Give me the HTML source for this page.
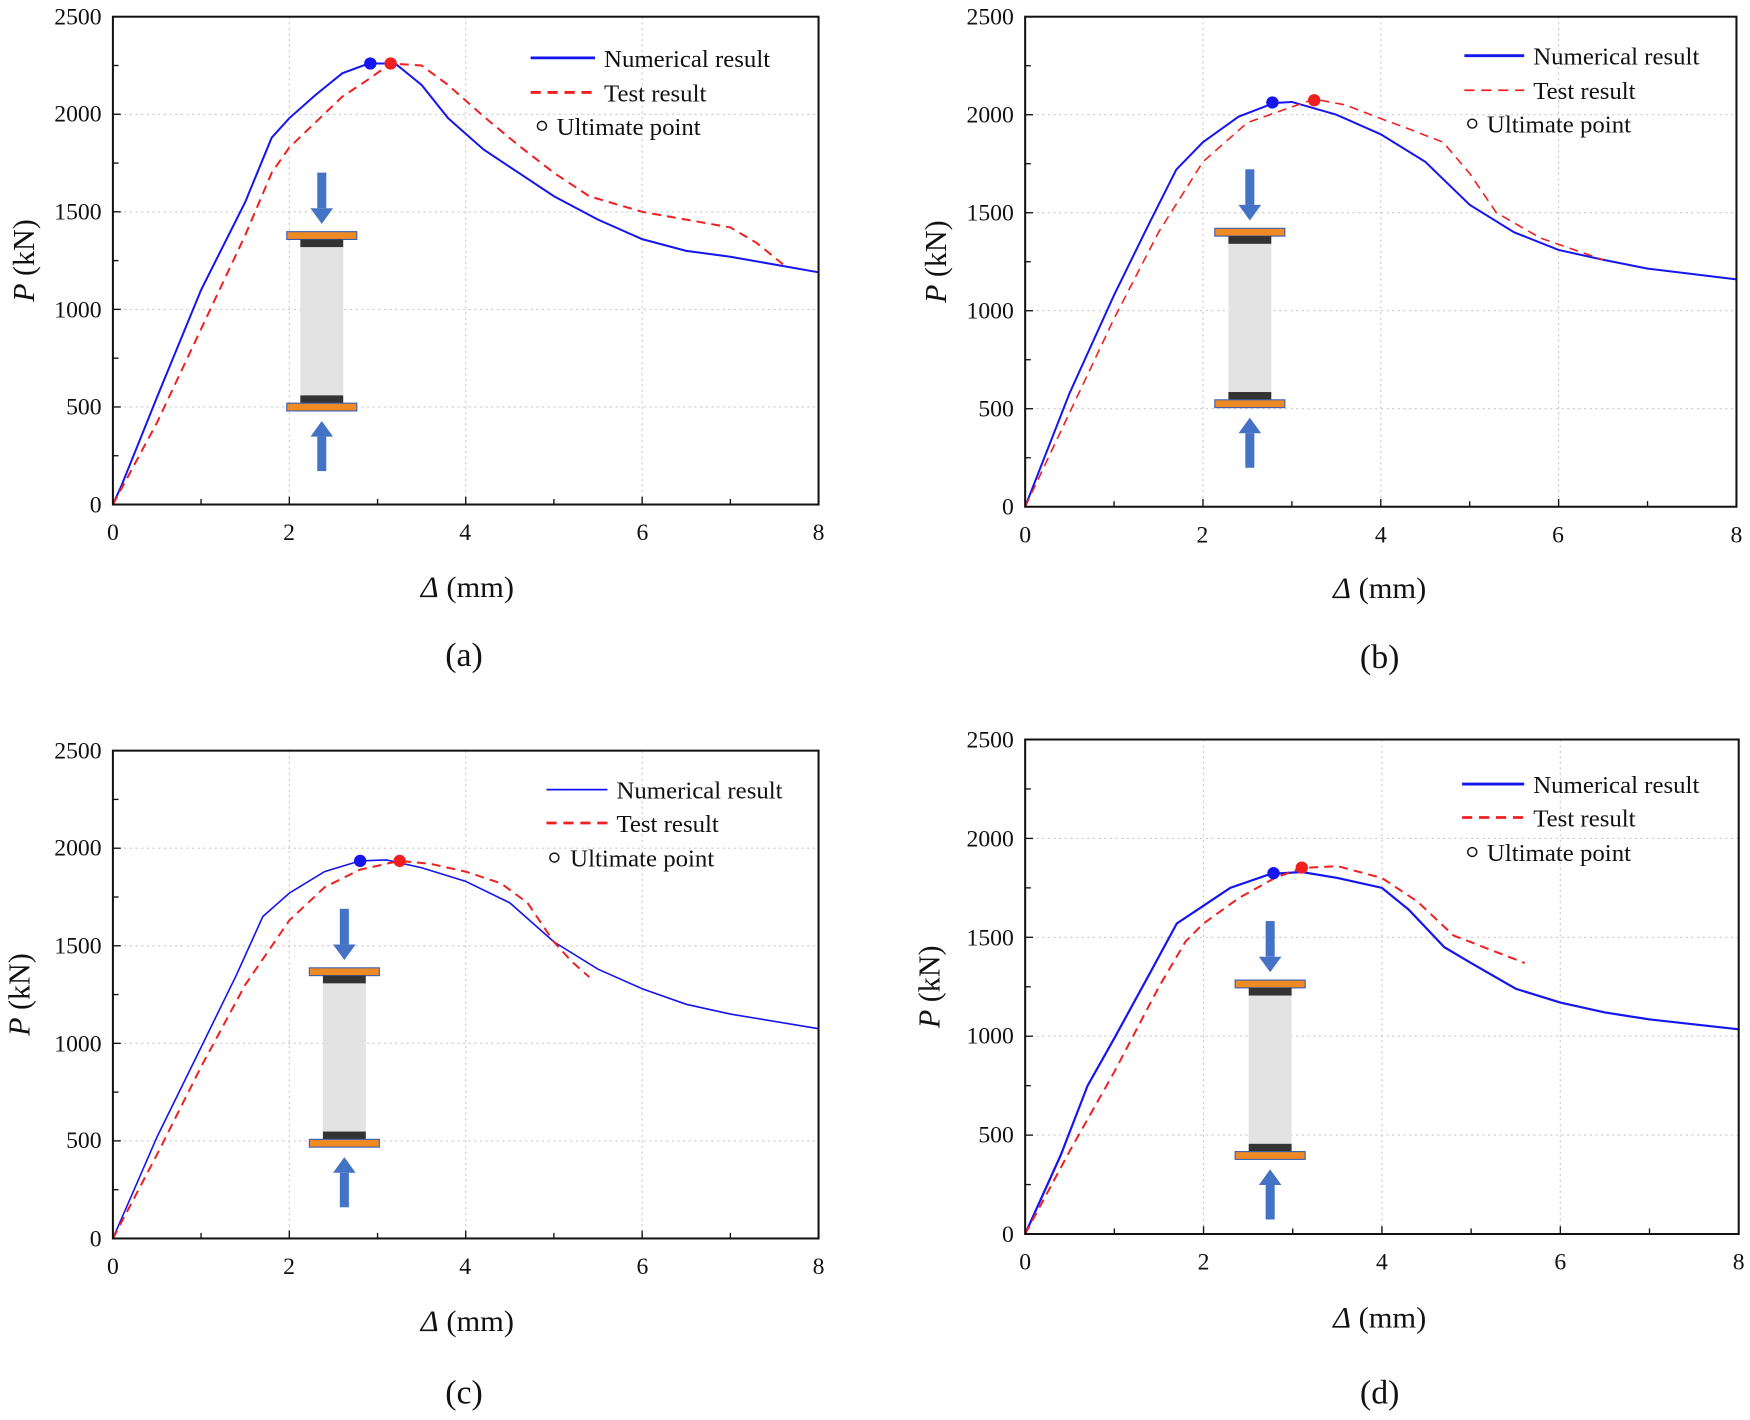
<!DOCTYPE html>
<html><head><meta charset="utf-8"><style>
html,body{margin:0;padding:0;background:#fff;}
svg{display:block;}
text{font-family:"Liberation Serif",serif;fill:#111;}
</style></head><body>
<svg width="1750" height="1420" viewBox="0 0 1550 1275" preserveAspectRatio="none" xmlns="http://www.w3.org/2000/svg">
<defs>
<g id="col">
<rect x="-4" y="0" width="8" height="32" fill="#4472c4"/>
<polygon points="-10,32 10,32 0,46" fill="#4472c4"/>
<rect x="-31" y="53" width="62" height="7" fill="#f08a24" stroke="#3b5fb0" stroke-width="1"/>
<rect x="-19" y="60" width="38" height="7" fill="#333"/>
<rect x="-19" y="67" width="38" height="133" fill="#e3e3e3"/>
<rect x="-19" y="200" width="38" height="7" fill="#333"/>
<rect x="-31" y="207" width="62" height="7" fill="#f08a24" stroke="#3b5fb0" stroke-width="1"/>
<polygon points="-10,237 10,237 0,223" fill="#4472c4"/>
<rect x="-4" y="237" width="8" height="31" fill="#4472c4"/>
</g>
</defs>

<!-- ===== (a) ===== -->
<g>
<g stroke="#ccc" stroke-width="1" stroke-dasharray="2,3">
<line x1="256.25" y1="15" x2="256.25" y2="453"/><line x1="412.5" y1="15" x2="412.5" y2="453"/><line x1="568.75" y1="15" x2="568.75" y2="453"/>
<line x1="100" y1="365.4" x2="725" y2="365.4"/><line x1="100" y1="277.8" x2="725" y2="277.8"/><line x1="100" y1="190.2" x2="725" y2="190.2"/><line x1="100" y1="102.6" x2="725" y2="102.6"/>
</g>
<use href="#col" x="285" y="155"/>
<g transform="translate(100,453) scale(78.125,-0.1752)" fill="none">
<polyline vector-effect="non-scaling-stroke" stroke="#1515f0" stroke-width="2" points="0,0 0.1,100 0.5,550 1,1100 1.5,1550 1.8,1880 2,1980 2.3,2100 2.6,2210 2.9,2260 3.2,2260 3.5,2150 3.8,1980 4.2,1820 4.6,1700 5,1580 5.5,1460 6,1360 6.5,1300 7,1270 8,1190"/>
<polyline vector-effect="non-scaling-stroke" stroke="#f02020" stroke-width="2" stroke-dasharray="9,6" points="0,0 0.5,420 1,900 1.5,1380 1.8,1700 2,1830 2.3,1960 2.6,2090 2.9,2180 3.15,2260 3.5,2250 3.8,2150 4.2,1990 4.6,1840 5,1700 5.4,1580 6,1500 6.5,1460 7,1420 7.3,1340 7.6,1230"/>
</g>
<circle cx="328" cy="57" r="5.5" fill="#1515f0"/><circle cx="346" cy="57" r="5.5" fill="#f02020"/>
<rect x="100" y="15" width="625" height="438" fill="none" stroke="#111" stroke-width="1.8"/>
<g stroke="#111" stroke-width="1.2">
<line x1="178.1" y1="453" x2="178.1" y2="448"/><line x1="256.25" y1="453" x2="256.25" y2="446"/><line x1="334.4" y1="453" x2="334.4" y2="448"/><line x1="412.5" y1="453" x2="412.5" y2="446"/><line x1="490.6" y1="453" x2="490.6" y2="448"/><line x1="568.75" y1="453" x2="568.75" y2="446"/><line x1="646.9" y1="453" x2="646.9" y2="448"/>
<line x1="100" y1="409.2" x2="105" y2="409.2"/><line x1="100" y1="365.4" x2="107" y2="365.4"/><line x1="100" y1="321.6" x2="105" y2="321.6"/><line x1="100" y1="277.8" x2="107" y2="277.8"/><line x1="100" y1="234" x2="105" y2="234"/><line x1="100" y1="190.2" x2="107" y2="190.2"/><line x1="100" y1="146.4" x2="105" y2="146.4"/><line x1="100" y1="102.6" x2="107" y2="102.6"/><line x1="100" y1="58.8" x2="105" y2="58.8"/>
</g>
<g font-size="21" text-anchor="end">
<text x="90" y="460">0</text><text x="90" y="372">500</text><text x="90" y="285">1000</text><text x="90" y="197">1500</text><text x="90" y="109">2000</text><text x="90" y="22">2500</text>
</g>
<g font-size="21" text-anchor="middle">
<text x="100" y="485">0</text><text x="256" y="485">2</text><text x="412" y="485">4</text><text x="569" y="485">6</text><text x="725" y="485">8</text>
</g>
<text x="414" y="536" font-size="27" text-anchor="middle"><tspan font-style="italic">Δ</tspan> (mm)</text>
<text transform="translate(30,234) rotate(-90)" font-size="27" text-anchor="middle"><tspan font-style="italic">P</tspan> (kN)</text>
<text x="411" y="598" font-size="30" text-anchor="middle">(a)</text>
<line x1="470" y1="52" x2="527" y2="52" stroke="#1515f0" stroke-width="2.5"/>
<line x1="470" y1="83" x2="527" y2="83" stroke="#f02020" stroke-width="2.5" stroke-dasharray="9,6"/>
<circle cx="480" cy="113" r="4" fill="none" stroke="#111" stroke-width="1.3"/>
<g font-size="22"><text x="535" y="60">Numerical result</text><text x="535" y="91">Test result</text><text x="493" y="121">Ultimate point</text></g>
</g>

<!-- ===== (b) ===== -->
<g>
<g stroke="#ccc" stroke-width="1" stroke-dasharray="2,3">
<line x1="1065.5" y1="15" x2="1065.5" y2="455"/><line x1="1223" y1="15" x2="1223" y2="455"/><line x1="1380.5" y1="15" x2="1380.5" y2="455"/>
<line x1="908" y1="367" x2="1538" y2="367"/><line x1="908" y1="279" x2="1538" y2="279"/><line x1="908" y1="191" x2="1538" y2="191"/><line x1="908" y1="103" x2="1538" y2="103"/>
</g>
<use href="#col" x="1107" y="152"/>
<g transform="translate(908,455) scale(78.75,-0.176)" fill="none">
<polyline vector-effect="non-scaling-stroke" stroke="#1515f0" stroke-width="2" points="0,0 0.5,580 1,1080 1.4,1450 1.7,1720 2,1860 2.4,1990 2.8,2060 3,2065 3.5,2000 4,1900 4.5,1760 5,1540 5.5,1400 6,1310 6.5,1260 7,1215 8,1160"/>
<polyline vector-effect="non-scaling-stroke" stroke="#f02020" stroke-width="1.6" stroke-dasharray="9,6" points="0,0 0.5,480 1,960 1.5,1400 2,1760 2.5,1960 3,2040 3.25,2080 3.6,2050 4,1980 4.3,1930 4.7,1860 5,1700 5.3,1500 5.8,1370 6.5,1260"/>
</g>
<circle cx="1127" cy="92" r="5.5" fill="#1515f0"/><circle cx="1164" cy="90" r="5.5" fill="#f02020"/>
<rect x="908" y="15" width="630" height="440" fill="none" stroke="#111" stroke-width="1.8"/>
<g stroke="#111" stroke-width="1.2">
<line x1="986.75" y1="455" x2="986.75" y2="450"/><line x1="1065.5" y1="455" x2="1065.5" y2="448"/><line x1="1144.25" y1="455" x2="1144.25" y2="450"/><line x1="1223" y1="455" x2="1223" y2="448"/><line x1="1301.75" y1="455" x2="1301.75" y2="450"/><line x1="1380.5" y1="455" x2="1380.5" y2="448"/><line x1="1459.25" y1="455" x2="1459.25" y2="450"/>
<line x1="908" y1="411" x2="913" y2="411"/><line x1="908" y1="367" x2="915" y2="367"/><line x1="908" y1="323" x2="913" y2="323"/><line x1="908" y1="279" x2="915" y2="279"/><line x1="908" y1="235" x2="913" y2="235"/><line x1="908" y1="191" x2="915" y2="191"/><line x1="908" y1="147" x2="913" y2="147"/><line x1="908" y1="103" x2="915" y2="103"/><line x1="908" y1="59" x2="913" y2="59"/>
</g>
<g font-size="21" text-anchor="end">
<text x="898" y="462">0</text><text x="898" y="374">500</text><text x="898" y="286">1000</text><text x="898" y="198">1500</text><text x="898" y="110">2000</text><text x="898" y="22">2500</text>
</g>
<g font-size="21" text-anchor="middle">
<text x="908" y="487">0</text><text x="1065" y="487">2</text><text x="1223" y="487">4</text><text x="1380" y="487">6</text><text x="1538" y="487">8</text>
</g>
<text x="1222" y="537" font-size="27" text-anchor="middle"><tspan font-style="italic">Δ</tspan> (mm)</text>
<text transform="translate(838,235) rotate(-90)" font-size="27" text-anchor="middle"><tspan font-style="italic">P</tspan> (kN)</text>
<text x="1222" y="600" font-size="30" text-anchor="middle">(b)</text>
<line x1="1297" y1="50" x2="1350" y2="50" stroke="#1515f0" stroke-width="2.5"/>
<line x1="1297" y1="81" x2="1350" y2="81" stroke="#f02020" stroke-width="1.6" stroke-dasharray="9,6"/>
<circle cx="1304" cy="111" r="4" fill="none" stroke="#111" stroke-width="1.3"/>
<g font-size="22"><text x="1358" y="58">Numerical result</text><text x="1358" y="89">Test result</text><text x="1317" y="119">Ultimate point</text></g>
</g>

<!-- ===== (c) ===== -->
<g>
<g stroke="#ccc" stroke-width="1" stroke-dasharray="2,3">
<line x1="256.25" y1="674" x2="256.25" y2="1112"/><line x1="412.5" y1="674" x2="412.5" y2="1112"/><line x1="568.75" y1="674" x2="568.75" y2="1112"/>
<line x1="100" y1="1024.4" x2="725" y2="1024.4"/><line x1="100" y1="936.8" x2="725" y2="936.8"/><line x1="100" y1="849.2" x2="725" y2="849.2"/><line x1="100" y1="761.6" x2="725" y2="761.6"/>
</g>
<use href="#col" x="305" y="816"/>
<g transform="translate(100,1112) scale(78.125,-0.1752)" fill="none">
<polyline vector-effect="non-scaling-stroke" stroke="#1515f0" stroke-width="1.6" points="0,0 0.5,520 1,980 1.4,1350 1.7,1650 2,1770 2.4,1880 2.8,1935 3.1,1940 3.5,1900 4,1830 4.5,1720 5,1520 5.5,1380 6,1280 6.5,1200 7,1150 8,1075"/>
<polyline vector-effect="non-scaling-stroke" stroke="#f02020" stroke-width="2" stroke-dasharray="9,6" points="0,0 0.5,430 1,880 1.5,1300 2,1630 2.4,1800 2.8,1890 3.25,1935 3.6,1920 4,1880 4.4,1820 4.7,1720 5,1520 5.2,1420 5.4,1340"/>
</g>
<circle cx="319" cy="773" r="5.5" fill="#1515f0"/><circle cx="354" cy="773" r="5.5" fill="#f02020"/>
<rect x="100" y="674" width="625" height="438" fill="none" stroke="#111" stroke-width="1.8"/>
<g stroke="#111" stroke-width="1.2">
<line x1="178.1" y1="1112" x2="178.1" y2="1107"/><line x1="256.25" y1="1112" x2="256.25" y2="1105"/><line x1="334.4" y1="1112" x2="334.4" y2="1107"/><line x1="412.5" y1="1112" x2="412.5" y2="1105"/><line x1="490.6" y1="1112" x2="490.6" y2="1107"/><line x1="568.75" y1="1112" x2="568.75" y2="1105"/><line x1="646.9" y1="1112" x2="646.9" y2="1107"/>
<line x1="100" y1="1068.2" x2="105" y2="1068.2"/><line x1="100" y1="1024.4" x2="107" y2="1024.4"/><line x1="100" y1="980.6" x2="105" y2="980.6"/><line x1="100" y1="936.8" x2="107" y2="936.8"/><line x1="100" y1="893" x2="105" y2="893"/><line x1="100" y1="849.2" x2="107" y2="849.2"/><line x1="100" y1="805.4" x2="105" y2="805.4"/><line x1="100" y1="761.6" x2="107" y2="761.6"/><line x1="100" y1="717.8" x2="105" y2="717.8"/>
</g>
<g font-size="21" text-anchor="end">
<text x="90" y="1119">0</text><text x="90" y="1031">500</text><text x="90" y="944">1000</text><text x="90" y="856">1500</text><text x="90" y="768">2000</text><text x="90" y="681">2500</text>
</g>
<g font-size="21" text-anchor="middle">
<text x="100" y="1144">0</text><text x="256" y="1144">2</text><text x="412" y="1144">4</text><text x="569" y="1144">6</text><text x="725" y="1144">8</text>
</g>
<text x="414" y="1195" font-size="27" text-anchor="middle"><tspan font-style="italic">Δ</tspan> (mm)</text>
<text transform="translate(26,893) rotate(-90)" font-size="27" text-anchor="middle"><tspan font-style="italic">P</tspan> (kN)</text>
<text x="411" y="1260" font-size="30" text-anchor="middle">(c)</text>
<line x1="484" y1="709" x2="538" y2="709" stroke="#1515f0" stroke-width="1.6"/>
<line x1="484" y1="739" x2="538" y2="739" stroke="#f02020" stroke-width="2.5" stroke-dasharray="9,6"/>
<circle cx="491" cy="770" r="4" fill="none" stroke="#111" stroke-width="1.3"/>
<g font-size="22"><text x="546" y="717">Numerical result</text><text x="546" y="747">Test result</text><text x="505" y="778">Ultimate point</text></g>
</g>

<!-- ===== (d) ===== -->
<g>
<g stroke="#ccc" stroke-width="1" stroke-dasharray="2,3">
<line x1="1066" y1="664" x2="1066" y2="1108"/><line x1="1224" y1="664" x2="1224" y2="1108"/><line x1="1382" y1="664" x2="1382" y2="1108"/>
<line x1="908" y1="1019.2" x2="1540" y2="1019.2"/><line x1="908" y1="930.4" x2="1540" y2="930.4"/><line x1="908" y1="841.6" x2="1540" y2="841.6"/><line x1="908" y1="752.8" x2="1540" y2="752.8"/>
</g>
<use href="#col" x="1125" y="827"/>
<g transform="translate(908,1108) scale(79,-0.1776)" fill="none">
<polyline vector-effect="non-scaling-stroke" stroke="#1515f0" stroke-width="2.2" points="0,0 0.4,400 0.7,750 1,990 1.4,1320 1.7,1570 2,1660 2.3,1750 2.75,1820 3.1,1830 3.5,1800 4,1750 4.3,1640 4.7,1450 5,1370 5.5,1240 6,1170 6.5,1120 7,1085 8,1035"/>
<polyline vector-effect="non-scaling-stroke" stroke="#f02020" stroke-width="2" stroke-dasharray="9,6" points="0,0 0.5,420 1,820 1.5,1250 1.8,1480 2,1570 2.4,1700 2.8,1800 3.1,1850 3.5,1860 4,1800 4.4,1680 4.8,1510 5.2,1440 5.6,1370"/>
</g>
<circle cx="1128" cy="784" r="5.5" fill="#1515f0"/><circle cx="1153" cy="779" r="5.5" fill="#f02020"/>
<rect x="908" y="664" width="632" height="444" fill="none" stroke="#111" stroke-width="1.8"/>
<g stroke="#111" stroke-width="1.2">
<line x1="987" y1="1108" x2="987" y2="1103"/><line x1="1066" y1="1108" x2="1066" y2="1101"/><line x1="1145" y1="1108" x2="1145" y2="1103"/><line x1="1224" y1="1108" x2="1224" y2="1101"/><line x1="1303" y1="1108" x2="1303" y2="1103"/><line x1="1382" y1="1108" x2="1382" y2="1101"/><line x1="1461" y1="1108" x2="1461" y2="1103"/>
<line x1="908" y1="1063.6" x2="913" y2="1063.6"/><line x1="908" y1="1019.2" x2="915" y2="1019.2"/><line x1="908" y1="974.8" x2="913" y2="974.8"/><line x1="908" y1="930.4" x2="915" y2="930.4"/><line x1="908" y1="886" x2="913" y2="886"/><line x1="908" y1="841.6" x2="915" y2="841.6"/><line x1="908" y1="797.2" x2="913" y2="797.2"/><line x1="908" y1="752.8" x2="915" y2="752.8"/><line x1="908" y1="708.4" x2="913" y2="708.4"/>
</g>
<g font-size="21" text-anchor="end">
<text x="898" y="1115">0</text><text x="898" y="1026">500</text><text x="898" y="937">1000</text><text x="898" y="849">1500</text><text x="898" y="760">2000</text><text x="898" y="671">2500</text>
</g>
<g font-size="21" text-anchor="middle">
<text x="908" y="1140">0</text><text x="1066" y="1140">2</text><text x="1224" y="1140">4</text><text x="1382" y="1140">6</text><text x="1540" y="1140">8</text>
</g>
<text x="1222" y="1192" font-size="27" text-anchor="middle"><tspan font-style="italic">Δ</tspan> (mm)</text>
<text transform="translate(832,886) rotate(-90)" font-size="27" text-anchor="middle"><tspan font-style="italic">P</tspan> (kN)</text>
<text x="1222" y="1260" font-size="30" text-anchor="middle">(d)</text>
<line x1="1295" y1="704" x2="1350" y2="704" stroke="#1515f0" stroke-width="2.5"/>
<line x1="1295" y1="734" x2="1350" y2="734" stroke="#f02020" stroke-width="2.5" stroke-dasharray="9,6"/>
<circle cx="1304" cy="765" r="4" fill="none" stroke="#111" stroke-width="1.3"/>
<g font-size="22"><text x="1358" y="712">Numerical result</text><text x="1358" y="742">Test result</text><text x="1317" y="773">Ultimate point</text></g>
</g>
</svg>
</body></html>
